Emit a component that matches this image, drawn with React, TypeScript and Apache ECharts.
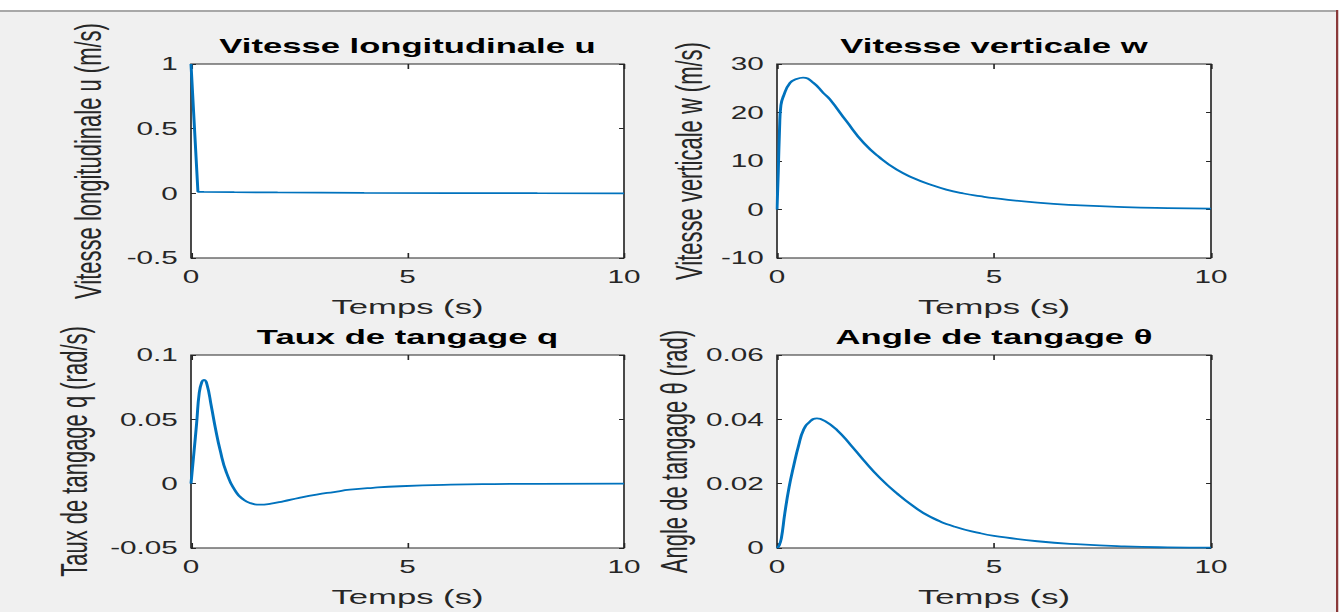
import React, { useEffect, useRef } from "react";
import * as echarts from "echarts";

const W = 814;
const H = 612;
const S = 1343 / W;

const titles = ["Vitesse longitudinale u", "Vitesse verticale w", "Taux de tangage q", "Angle de tangage θ"];
const yNames = ["Vitesse longitudinale u (m/s)", "Vitesse verticale w (m/s)", "Taux de tangage q (rad/s)", "Angle de tangage θ (rad)"];
const xName = "Temps (s)";

const xTicks = [0, 5, 10];
const uTicks = [-0.5, 0, 0.5, 1];
const wTicks = [-10, 0, 10, 20, 30];
const qTicks = [-0.05, 0, 0.05, 0.1];
const thetaTicks = [0, 0.02, 0.04, 0.06];

const tU = [0, 0.16, 0.3, 1, 2, 4, 6, 8, 10];
const uVals = [1, 0.012, 0.011, 0.009, 0.007, 0.004, 0.002, 0.001, 0.0004];

const tW = [0, 0.03, 0.06, 0.09, 0.15, 0.3, 0.45, 0.6, 0.84, 1.07, 1.22, 1.6, 2.0, 2.37, 2.76, 3.14, 3.53, 3.9, 4.3, 4.68, 5, 6, 7, 8, 9, 10];
const wVals = [0, 8, 17, 21.5, 23.4, 26.1, 26.9, 27.2, 26.1, 24.0, 22.7, 18.2, 13.7, 10.7, 8.2, 6.5, 5.15, 4.1, 3.3, 2.75, 2.35, 1.4, 0.85, 0.5, 0.3, 0.18];

const tQ = [0, 0.07, 0.13, 0.19, 0.25, 0.3, 0.37, 0.47, 0.57, 0.67, 0.82, 1.05, 1.2, 1.36, 1.59, 1.85, 2.13, 2.5, 2.9, 3.3, 3.67, 4.2, 4.83, 6, 7, 8, 10];
const qVals = [0, 0.025, 0.047, 0.0705, 0.079, 0.0806, 0.077, 0.06, 0.042, 0.0264, 0.0085, -0.007, -0.012, -0.015, -0.0163, -0.0155, -0.0137, -0.011, -0.0085, -0.0065, -0.0047, -0.0032, -0.002, -0.0008, -0.0003, -0.0001, 0];

const tTh = [0, 0.05, 0.1, 0.18, 0.28, 0.38, 0.5, 0.61, 0.75, 0.92, 1.1, 1.38, 1.7, 1.99, 2.37, 2.76, 3.14, 3.53, 4.1, 4.68, 5, 6, 7, 8, 9, 10];
const thVals = [0, 0.0008, 0.003, 0.0108, 0.019, 0.0253, 0.032, 0.0367, 0.0392, 0.0403, 0.0395, 0.0367, 0.032, 0.0274, 0.0218, 0.017, 0.013, 0.0097, 0.0066, 0.0046, 0.0038, 0.0021, 0.0011, 0.0005, 0.0002, 0.0001];

const FONT = "'Liberation Sans', Arial, Helvetica, sans-serif";
const AX = "#262626";

// layout in screen px, converted to the un-stretched coordinate system
const colL = [191, 777];
const colR = [624, 1211];
const rowT = [64, 355];
const rowB = [258, 548];
const yNameGaps = [51, 42, 60, 51];

export default function App() {
  const ref = useRef<HTMLDivElement>(null);
  useEffect(() => {
    const chart = echarts.init(ref.current!, null, { renderer: "svg" });
    const tickSets = [uTicks, wTicks, qTicks, thetaTicks];
    const xs = [tU, tW, tQ, tTh];
    const ys = [uVals, wVals, qVals, thVals];
    const grids: any[] = [];
    const xAxes: any[] = [];
    const yAxes: any[] = [];
    const series: any[] = [];
    const titleArr: any[] = [];
    const mirrorX: any[] = [];
    const mirrorY: any[] = [];
    for (let i = 0; i < 4; i++) {
      const c = i % 2;
      const r = Math.floor(i / 2);
      const left = colL[c] / S;
      const right = colR[c] / S;
      grids.push({
        left,
        top: rowT[r],
        width: right - left,
        height: rowB[r] - rowT[r],
        show: true,
        backgroundColor: "#ffffff",
        borderColor: AX,
        borderWidth: 1,
        containLabel: false,
      });
      titleArr.push({
        text: titles[i],
        left: (left + right) / 2,
        top: r === 0 ? 35 : 326,
        textAlign: "center",
        padding: 0,
        textStyle: { fontFamily: FONT, fontSize: 21, fontWeight: "bold", color: "#000" },
      });
      const xBase = {
        gridIndex: i,
        type: "value",
        min: xTicks[0],
        max: xTicks[xTicks.length - 1],
        interval: xTicks[1] - xTicks[0],
        splitLine: { show: false },
        axisLine: { show: false, onZero: false },
        axisTick: { show: true, inside: true, length: 5, lineStyle: { color: AX, width: 1 } },
      };
      xAxes.push({
        ...xBase,
        position: "bottom",
        name: xName,
        nameLocation: "middle",
        nameGap: 38,
        nameTextStyle: { fontFamily: FONT, fontSize: 21, color: AX },
        axisLabel: { show: true, margin: 10, fontFamily: FONT, fontSize: 18, color: AX },
      });
      mirrorX.push({ ...xBase, position: "top", axisLabel: { show: false } });
      const t = tickSets[i];
      const yBase = {
        gridIndex: i,
        type: "value",
        min: t[0],
        max: t[t.length - 1],
        interval: +(t[1] - t[0]).toFixed(6),
        splitLine: { show: false },
        axisLine: { show: false, onZero: false },
        axisTick: { show: true, inside: true, length: 3, lineStyle: { color: AX, width: 1 } },
      };
      yAxes.push({
        ...yBase,
        position: "left",
        name: yNames[i],
        nameLocation: "middle",
        nameGap: yNameGaps[i],
        nameTextStyle: { fontFamily: FONT, fontSize: 22, color: AX },
        axisLabel: { show: true, margin: 8, fontFamily: FONT, fontSize: 18, color: AX },
      });
      mirrorY.push({ ...yBase, position: "right", axisLabel: { show: false } });
      series.push({
        type: "line",
        xAxisIndex: i,
        yAxisIndex: i,
        data: xs[i].map((x, k) => [x, ys[i][k]]),
        showSymbol: false,
        smooth: i === 0 ? false : 0.5,
        lineStyle: { color: "#0072bd", width: 1.8 },
        itemStyle: { color: "#0072bd" },
        clip: true,
      });
    }
    chart.setOption({
      animation: false,
      backgroundColor: "#f0f0f0",
      title: titleArr,
      grid: grids,
      xAxis: [...xAxes, ...mirrorX],
      yAxis: [...yAxes, ...mirrorY],
      series,
      graphic: [
        { type: "rect", shape: { x: 0, y: 0, width: W, height: 10 }, style: { fill: "#ffffff" }, silent: true },
        { type: "rect", shape: { x: 0, y: 10, width: 1337 / S, height: 2 }, style: { fill: "#a8a8a8" }, silent: true },
        { type: "rect", shape: { x: 1336 / S, y: 10, width: 2.5 / S, height: H - 10 }, style: { fill: "#8a3a3a" }, silent: true },
        { type: "rect", shape: { x: 1338.5 / S, y: 0, width: W, height: H }, style: { fill: "#ffffff" }, silent: true },
      ],
    });
    return () => chart.dispose();
  }, []);
  return (
    <div
      ref={ref}
      style={{
        position: "absolute",
        left: 0,
        top: 0,
        width: W,
        height: H,
        transform: `scaleX(${S})`,
        transformOrigin: "0 0",
      }}
    />
  );
}
